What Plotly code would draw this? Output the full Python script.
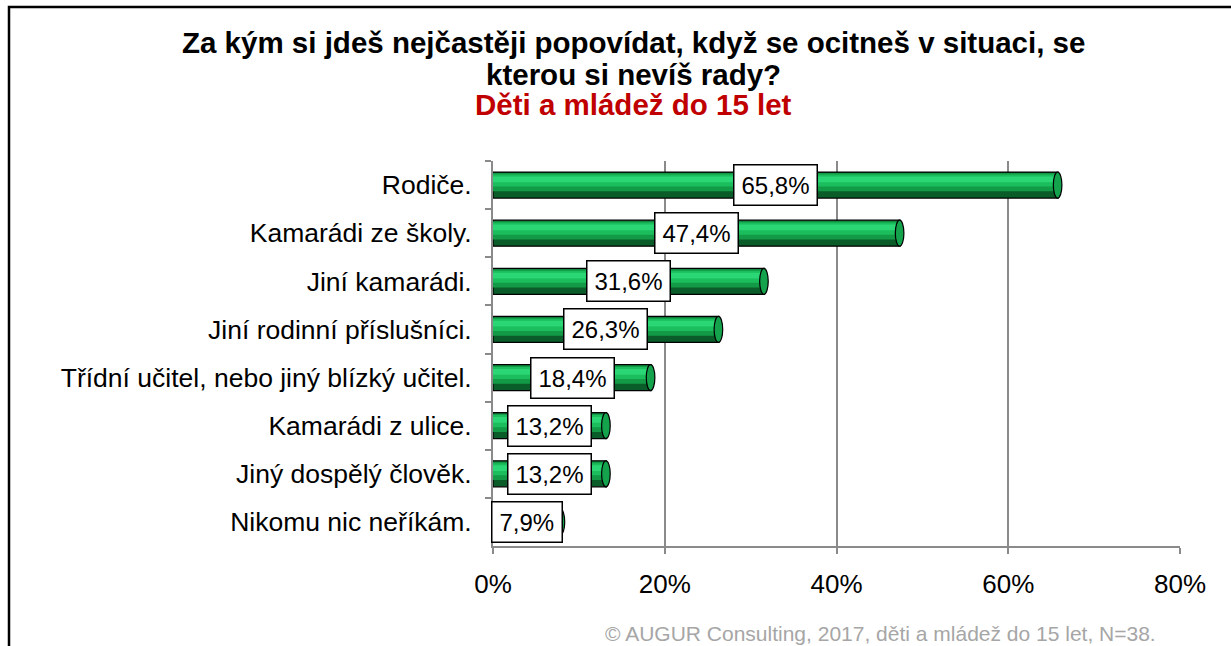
import plotly.graph_objects as go

# Survey answers (top to bottom) and their shares in %
categories = [
    "Rodiče.",
    "Kamarádi ze školy.",
    "Jiní kamarádi.",
    "Jiní rodinní příslušníci.",
    "Třídní učitel, nebo jiný blízký učitel.",
    "Kamarádi z ulice.",
    "Jiný dospělý člověk.",
    "Nikomu nic neříkám.",
]
values = [65.8, 47.4, 31.6, 26.3, 18.4, 13.2, 13.2, 7.9]
x_ticks = [0, 20, 40, 60, 80]
x_tick_labels = ["0%", "20%", "40%", "60%", "80%"]

title_lines = [
    "Za kým si jdeš nejčastěji popovídat, když se ocitneš v situaci, se",
    "kterou si nevíš rady?",
]
subtitle = "Děti a mládež do 15 let"
footer = "© AUGUR Consulting, 2017, děti a mládež do 15 let, N=38."

W, H = 1231, 646
ML, MR, MT, MB = 493, 51, 161, 100
PW, PH = W - ML - MR, H - MT - MB
FONT = "Liberation Sans, Arial, sans-serif"
GRID = "#8a8a8a"
LABEL_SIZE = 24


def px(x):
    return (x - ML) / PW


def py(y):
    return 1 - (y - MT) / PH


def fmt(v):
    return f"{v:.1f}".replace(".", ",") + "%"


fig = go.Figure()

# Cylinder look: a dark outlined bar with lighter bands stacked on top of it
bands = [
    # (top edge, bottom edge relative to category centre, colour)
    (-0.27, 0.27, "#0a5c28"),
    (-0.25, 0.13, "#129a46"),
    (-0.22, 0.03, "#1bbd5c"),
    (-0.18, -0.06, "#2bd675"),
]
for i, (top, bottom, color) in enumerate(bands):
    fig.add_trace(go.Bar(
        y=categories,
        x=values,
        orientation="h",
        width=bottom - top,
        offset=top,
        marker=dict(
            color=color,
            line=dict(color="black", width=1.3 if i == 0 else 0),
        ),
        hoverinfo="skip",
        showlegend=False,
    ))

shapes = []
# End caps of the cylinders
for idx, v in enumerate(values):
    shapes.append(dict(
        type="circle", xref="x", yref="y", layer="above",
        x0=v - 0.55, x1=v + 0.45, y0=idx - 0.27, y1=idx + 0.27,
        fillcolor="#14a24c", line=dict(color="black", width=1.2),
    ))

# Outer frame of the chart
shapes.append(dict(
    type="rect", xref="paper", yref="paper", layer="above",
    x0=px(9), x1=px(W + 20), y0=py(H + 20), y1=py(7),
    line=dict(color="black", width=2.5), fillcolor="rgba(0,0,0,0)",
))

annotations = []
# Value labels in white boxes, centred on each bar
for idx, v in enumerate(values):
    txt = fmt(v)
    est = sum(0.278 if c == "," else 0.889 if c == "%" else 0.556 for c in txt) * LABEL_SIZE
    annotations.append(dict(
        x=v / 2, y=idx, xref="x", yref="y",
        text=txt, showarrow=False,
        font=dict(family=FONT, size=LABEL_SIZE, color="black"),
        bgcolor="white", bordercolor="black", borderwidth=1.5,
        borderpad=1, width=est + 12, height=37,
    ))

# Title
for line, ypix in zip(title_lines, [42, 74]):
    annotations.append(dict(
        x=px(633), y=py(ypix), xref="paper", yref="paper",
        xanchor="center", yanchor="middle", showarrow=False,
        text=f"<b>{line}</b>",
        font=dict(family=FONT, size=29.5, color="black"),
    ))
annotations.append(dict(
    x=px(633), y=py(105), xref="paper", yref="paper",
    xanchor="center", yanchor="middle", showarrow=False,
    text=f"<b>{subtitle}</b>",
    font=dict(family=FONT, size=29.5, color="#c00000"),
))
# Source note
annotations.append(dict(
    x=px(1158), y=py(633), xref="paper", yref="paper",
    xanchor="right", yanchor="middle", showarrow=False,
    text=footer,
    font=dict(family=FONT, size=21, color="#a6a6a6"),
))

fig.update_layout(
    width=W, height=H,
    margin=dict(l=ML, r=MR, t=MT, b=MB, pad=0),
    paper_bgcolor="white", plot_bgcolor="white",
    barmode="overlay",
    shapes=shapes,
    annotations=annotations,
    xaxis=dict(
        range=[0, 80],
        tickvals=x_ticks, ticktext=x_tick_labels,
        showgrid=True, gridcolor=GRID, gridwidth=2,
        showline=True, linecolor=GRID, linewidth=2,
        ticks="outside", ticklen=6, tickcolor=GRID, tickwidth=2,
        ticklabelstandoff=8,
        tickfont=dict(family=FONT, size=26, color="black"),
        zeroline=False, fixedrange=True,
    ),
    yaxis=dict(
        autorange="reversed",
        showgrid=False,
        showline=True, linecolor=GRID, linewidth=2,
        ticks="outside", ticklen=6, tickcolor=GRID, tickwidth=2,
        tickson="boundaries",
        ticklabelstandoff=14,
        tickfont=dict(family=FONT, size=26.5, color="black"),
        fixedrange=True,
    ),
)

fig.write_html("out.html")
